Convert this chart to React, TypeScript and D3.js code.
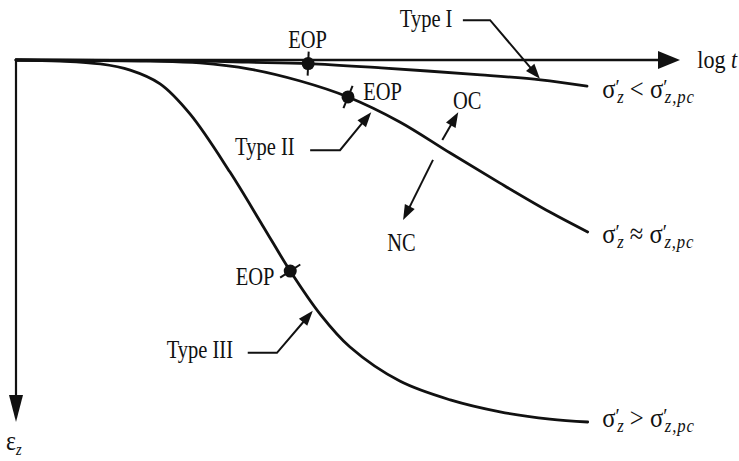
import React from "react";
import * as d3 from "d3";

const W = 739;
const H = 461;

// Positions along the log-time axis (0–100) and strain down the vertical axis (0–100)
const typeILogT = [0, 28, 35, 44, 55, 70, 79, 86];
const typeIStrain = [0, 0.3, 0.6, 1.0, 2.2, 4.1, 5.5, 7.2];

const typeIILogT = [0, 20.2, 27.7, 35.2, 42.8, 50, 57.8, 65.4, 72.9, 80.4, 86.1];
const typeIIStrain = [0, 0.3, 0.8, 2.5, 5.8, 10.2, 17.1, 25.7, 34, 42, 47.5];

const typeIIILogT = [0, 6.6, 12.7, 17.2, 21.7, 26.2, 32.2, 37.2, 41.3, 45.8, 50.3, 57.8, 65.4, 72.9, 80.4, 86.1];
const typeIIIStrain = [0, 0.3, 1.1, 2.8, 6.6, 14.9, 30.9, 45.9, 58.3, 70.2, 79.3, 88.7, 93.9, 97.2, 99.2, 100];

// End-of-primary consolidation points on each curve (I, II, III)
const eopLogT = [44, 50, 41.3];
const eopStrain = [1.0, 10.2, 58.3];

const xs = d3.scaleLinear().domain([0, 100]).range([16, 680]);
const ys = d3.scaleLinear().domain([0, 100]).range([60, 422]);

const curveLine = d3
  .line<[number, number]>()
  .x((d) => xs(d[0]))
  .y((d) => ys(d[1]))
  .curve(d3.curveCatmullRom.alpha(0.5));

const zip = (a: number[], b: number[]) => a.map((v, i) => [v, b[i]] as [number, number]);
const curves = [
  zip(typeILogT, typeIStrain),
  zip(typeIILogT, typeIIStrain),
  zip(typeIIILogT, typeIIIStrain),
];

const FONT = "'Liberation Serif', 'Times New Roman', serif";

function headPoints(tx: number, ty: number, fx: number, fy: number, len: number, half: number) {
  const dx = tx - fx;
  const dy = ty - fy;
  const L = Math.hypot(dx, dy);
  const ux = dx / L;
  const uy = dy / L;
  const bx = tx - ux * len;
  const by = ty - uy * len;
  return `${tx},${ty} ${bx - uy * half},${by + ux * half} ${bx + uy * half},${by - ux * half}`;
}

// Leader arrow: polyline in data units, filled head at the last point
function Leader({ pts, len = 15, half = 5.5 }: { pts: [number, number][]; len?: number; half?: number }) {
  const p = pts.map(([u, v]) => [xs(u), ys(v)]);
  const [tx, ty] = p[p.length - 1];
  const [fx, fy] = p[p.length - 2];
  const L = Math.hypot(tx - fx, ty - fy);
  const stop = [tx - ((tx - fx) / L) * (len - 2), ty - ((ty - fy) / L) * (len - 2)];
  const linePts = [...p.slice(0, -1), stop].map((q) => q.join(",")).join(" ");
  return (
    <g>
      <polyline points={linePts} fill="none" stroke="#111" strokeWidth={2} />
      <polygon points={headPoints(tx, ty, fx, fy, len, half)} fill="#111" />
    </g>
  );
}

function Label({ u, v, size = 25, sx = 0.82, children }: { u: number; v: number; size?: number; sx?: number; children: React.ReactNode }) {
  return (
    <text
      transform={`translate(${xs(u)},${ys(v)}) scale(${sx},1)`}
      fontFamily={FONT}
      fontSize={size}
      fill="#111"
    >
      {children}
    </text>
  );
}

function StressLabel({ v, rel }: { v: number; rel: string }) {
  return (
    <Label u={88.3} v={v} size={28} sx={0.88}>
      <tspan>σ</tspan>
      <tspan fontSize={22} dy={-4}>′</tspan>
      <tspan fontSize={19} fontStyle="italic" dx={-3} dy={9}>z</tspan>
      <tspan dy={-5}>{` ${rel} `}</tspan>
      <tspan>σ</tspan>
      <tspan fontSize={22} dy={-4}>′</tspan>
      <tspan fontSize={19} fontStyle="italic" dx={-3} dy={9} letterSpacing={1}>z,pc</tspan>
    </Label>
  );
}

export default function App() {
  const ox = xs(0);
  const oy = ys(0);
  const axEnd = xs(100);
  const ayEnd = ys(100);

  const eops = eopLogT.map((u, i) => {
    const pts = curves[i];
    const k = pts.findIndex((p) => p[0] === u);
    const a = pts[Math.max(0, k - 1)];
    const b = pts[Math.min(pts.length - 1, k + 1)];
    const tx = xs(b[0]) - xs(a[0]);
    const ty = ys(b[1]) - ys(a[1]);
    const L = Math.hypot(tx, ty);
    return { x: xs(u), y: ys(eopStrain[i]), nx: -ty / L, ny: tx / L };
  });

  return (
    <svg
      width={W}
      height={H}
      viewBox={`0 0 ${W} ${H}`}
      style={{ position: "absolute", left: 0, top: 0, display: "block", background: "#fff" }}
    >
      {/* axes */}
      <line x1={ox} y1={oy} x2={axEnd - 18} y2={oy} stroke="#111" strokeWidth={2.6} />
      <polygon points={headPoints(axEnd, oy, ox, oy, 22, 9)} fill="#111" />
      <line x1={ox} y1={oy} x2={ox} y2={ayEnd - 22} stroke="#111" strokeWidth={2.2} />
      <polygon points={headPoints(ox, ayEnd, ox, oy, 27, 7)} fill="#111" />

      {/* settlement curves */}
      {curves.map((c, i) => (
        <path key={i} d={curveLine(c) ?? ""} fill="none" stroke="#111" strokeWidth={2.8} strokeLinecap="round" />
      ))}

      {/* EOP markers */}
      {eops.map((e, i) => (
        <g key={i}>
          <line
            x1={e.x - e.nx * 12}
            y1={e.y - e.ny * 12}
            x2={e.x + e.nx * 12}
            y2={e.y + e.ny * 12}
            stroke="#111"
            strokeWidth={2}
          />
          <circle cx={e.x} cy={e.y} r={6.5} fill="#111" />
        </g>
      ))}

      {/* EOP labels */}
      <Label u={41.0} v={-3.4}>EOP</Label>
      <Label u={52.3} v={11.0}>EOP</Label>
      <Label u={33.1} v={62.2}>EOP</Label>

      {/* type labels with leaders */}
      <Label u={57.8} v={-9.1}>Type I</Label>
      <Leader pts={[[67.3, -11], [71.4, -11], [78.9, 5.2]]} />
      <Label u={33.0} v={26.2}>Type II</Label>
      <Leader pts={[[44.3, 24.9], [48.8, 24.9], [53.5, 14.4]]} />
      <Label u={22.7} v={82.3}>Type III</Label>
      <Leader pts={[[34.9, 80.9], [39.3, 80.9], [44.7, 69.3]]} />

      {/* OC / NC */}
      <Label u={65.8} v={13.5}>OC</Label>
      <Leader pts={[[64.2, 22.1], [66.6, 14.4]]} />
      <Label u={55.9} v={52.8}>NC</Label>
      <Leader pts={[[62.8, 27.6], [58.3, 44.2]]} />

      {/* stress-state labels */}
      <StressLabel v={10.5} rel="<" />
      <StressLabel v={50.6} rel="≈" />
      <StressLabel v={101.4} rel=">" />

      {/* axis titles */}
      <Label u={102.6} v={2.2} size={26} sx={0.85}>
        <tspan>log </tspan>
        <tspan fontStyle="italic">t</tspan>
      </Label>
      <Label u={-1.5} v={107.7} size={28} sx={0.85}>
        <tspan>ε</tspan>
        <tspan fontSize={17} fontStyle="italic" dy={5}>z</tspan>
      </Label>
    </svg>
  );
}
